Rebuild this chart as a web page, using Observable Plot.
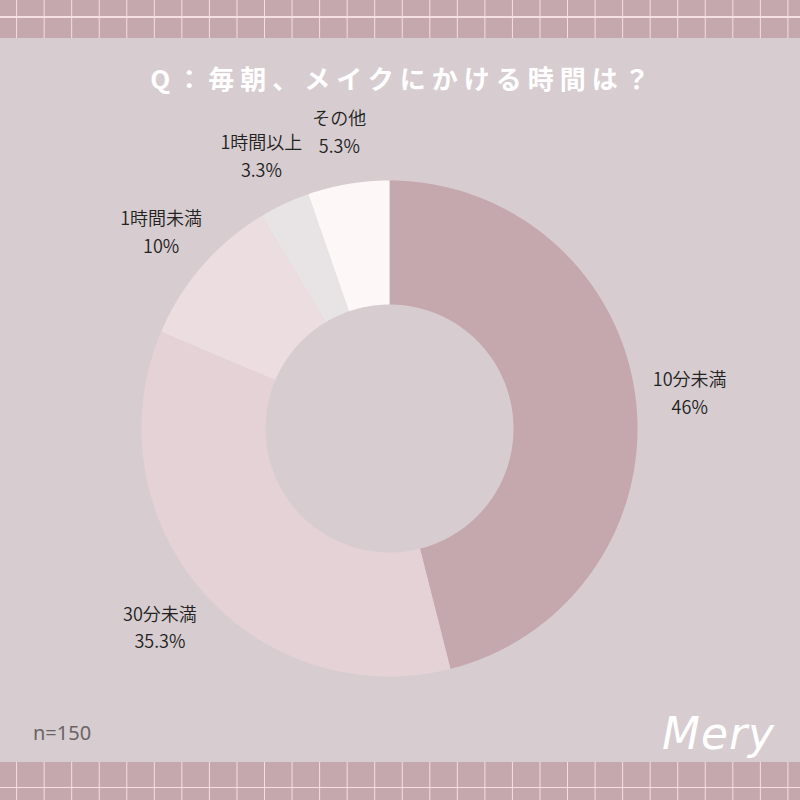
<!DOCTYPE html>
<html><head><meta charset="utf-8">
<script src="https://cdn.jsdelivr.net/npm/d3@7"></script>
<script src="https://cdn.jsdelivr.net/npm/@observablehq/plot@0.6"></script>
<style>
html,body{margin:0;padding:0;background:#d7cdd0;}
#card{position:relative;width:800px;height:800px;overflow:hidden;background:#d7cdd0;font-family:"Noto Sans CJK JP","Noto Sans",sans-serif;}
.band{position:absolute;left:0;width:800px;height:38px;background-color:#c4a8ad;
  background-image:linear-gradient(90deg, rgba(248,226,230,0.95) 0 1.3px, transparent 1.3px 100%);
  background-size:27.55px 100%;background-position:16.1px 0;}
.band.top{top:0;}
.band.bottom{top:762px;}
.hline{position:absolute;left:0;width:800px;height:1.3px;background:rgba(248,226,230,0.95);}
.top .hline{top:16.3px;}
.bottom .hline{top:24.5px;}
#title{position:absolute;top:58px;left:3px;width:800px;text-align:center;color:#fff;font-weight:700;font-size:26px;letter-spacing:6px;line-height:40px;white-space:nowrap;}
#chart{position:absolute;left:0;top:0;}
#note{position:absolute;left:33px;top:719px;font-size:20px;color:#6a6366;font-family:"Noto Sans",sans-serif;}
#logo{position:absolute;left:662px;top:708px;font-size:44px;color:#fff;font-style:italic;font-family:"DejaVu Sans",sans-serif;font-weight:200;letter-spacing:1px;}
</style></head>
<body>
<div id="card">
  <div class="band top"><div class="hline"></div></div>
  <div class="band bottom"><div class="hline"></div></div>
  <div id="chart"></div>
  <div id="title">Q：毎朝、メイクにかける時間は？</div>
  <div id="note">n=150</div>
  <div id="logo">Mery</div>
</div>
<script>
const categories = ["10分未満", "30分未満", "1時間未満", "1時間以上", "その他"];
const percents = [46, 35.3, 10, 3.3, 5.3];
const percentLabels = ["46%", "35.3%", "10%", "3.3%", "5.3%"];
const sliceColors = ["#c4a8ad", "#e5d2d6", "#ecdde0", "#e8e4e6", "#fdf7f7"];

const innerRatio = 0.5;
const labelRatio = 1.22;

const rows = categories.map((c, i) => ({name: c, value: percents[i], label: percentLabels[i]}));
const arcs = d3.pie().sort(null).value(d => d.value)(rows);

// polygon outline of each ring slice, derived from pie angles
const ringPts = [];
arcs.forEach(a => {
  const steps = Math.max(8, Math.ceil((a.endAngle - a.startAngle) / 0.01));
  for (let k = 0; k <= steps; k++) {
    const t = a.startAngle + (a.endAngle - a.startAngle) * k / steps;
    ringPts.push({name: a.data.name, x: Math.sin(t), y: Math.cos(t)});
  }
  for (let k = steps; k >= 0; k--) {
    const t = a.startAngle + (a.endAngle - a.startAngle) * k / steps;
    ringPts.push({name: a.data.name, x: innerRatio * Math.sin(t), y: innerRatio * Math.cos(t)});
  }
});

const labelPts = arcs.map(a => {
  const m = (a.startAngle + a.endAngle) / 2;
  return {text: a.data.name + "\n" + a.data.label, x: labelRatio * Math.sin(m), y: labelRatio * Math.cos(m)};
});

const chart = Plot.plot({
  width: 800,
  height: 800,
  marginLeft: 141,
  marginRight: 163,
  marginTop: 180,
  marginBottom: 124,
  x: {domain: [-1, 1], axis: null},
  y: {domain: [-1, 1], axis: null},
  color: {domain: categories, range: sliceColors},
  style: {background: "transparent", overflow: "visible"},
  marks: [
    Plot.line(ringPts, {x: "x", y: "y", z: "name", fill: "name", stroke: "none", curve: "linear-closed"}),
    Plot.text(labelPts, {x: "x", y: "y", text: "text", fontSize: 18, lineHeight: 1.55, fill: "#222222", textAnchor: "middle", fontFamily: "Noto Sans CJK JP", fontWeight: 350})
  ]
});
document.getElementById("chart").appendChild(chart);
</script>
</body></html>
